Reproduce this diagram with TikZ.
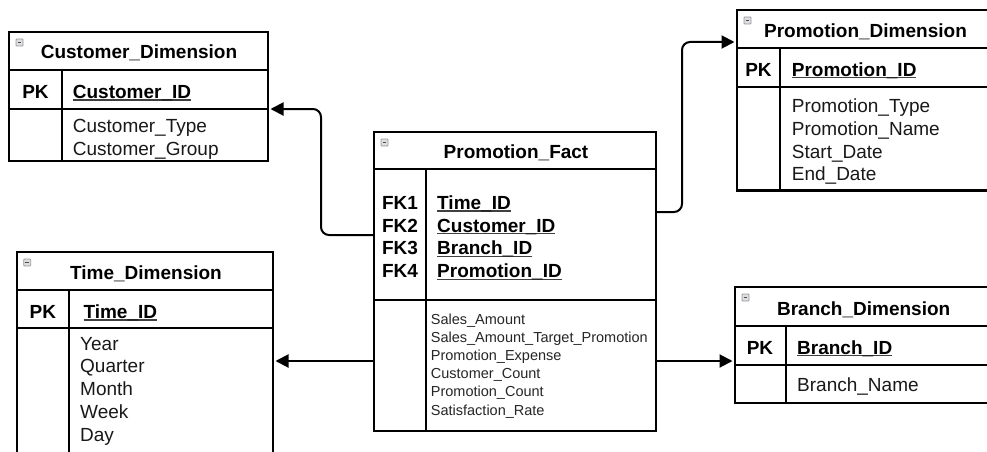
\documentclass[tikz,border=0pt]{standalone}
\usepackage{fontspec}
\setmainfont{Liberation Sans}
\usetikzlibrary{arrows.meta}

% underline drawn just below the baseline, as in ER tools
\newcommand\keyul[1]{\leavevmode\setbox0\hbox{#1}\rlap{\color{black!75}\rule[-2.4pt]{\wd0}{1.3pt}}\box0}

\tikzset{
  frame/.style={draw=black, line width=2.4pt, fill=white, inner sep=0pt, outer sep=0pt},
  rowrule/.style={line width=2.4pt},
  link/.style={line width=2pt, rounded corners=8pt, -{Triangle[length=13pt,width=13pt]}, shorten >=2.5pt},
  title/.style={font=\fontsize{19}{22}\selectfont\bfseries, inner sep=0pt, anchor=base},
  keylbl/.style={font=\fontsize{19}{22}\selectfont\bfseries, inner sep=0pt, anchor=base},
  keyname/.style={font=\fontsize{19}{22}\selectfont\bfseries, inner sep=0pt, anchor=base west},
  attr/.style={font=\fontsize{19}{22}\selectfont, text=black!90, inner sep=0pt, anchor=base west},
  smallattr/.style={font=\fontsize{14.5}{17}\selectfont, text=black!85, inner sep=0pt, anchor=base west},
  icon/.style={draw=gray!80, fill=blue!8!gray!25, line width=0.8pt, rounded corners=0.8pt}
}

% table frame: name, x1, y1, x2, y2, header rule y, key rule y, column rule x
\newcommand\ertable[8]{%
  \node[frame, anchor=north west, minimum width={#4-#2}, minimum height={#5-#3}] (#1) at (#2,#3) {};
  \draw[rowrule] (#2,#6) -- (#4,#6) (#2,#7) -- (#4,#7) (#8,#6) -- (#8,#5);
  \draw[icon] ({#2+7},{#3+7}) rectangle +(7,7);
  \draw[line width=1pt, black!70] ({#2+8.6},{#3+10.5}) -- +(3.8,0);
}

\begin{document}
\begin{tikzpicture}[x=1pt, y=-1pt]
\useasboundingbox (0,0) rectangle (987,452);
\clip (0,0) rectangle (987,452);
\fill[white] (0,0) rectangle (987,452);

% ---------- Customer_Dimension ----------
\ertable{cust}{9}{32}{268}{161}{70}{109}{62}
\node[title] (cust-t) at (139,58.3) {Customer\_Dimension};
\node[keylbl] (cust-pk) at (35.5,98.3) {PK};
\node[keyname] (cust-k) at (72.7,98.3) {\keyul{Customer\_ID}};
\node[attr] (cust-a1) at (72.7,132.7) {Customer\_Type};
\node[attr] (cust-a2) at (72.7,155) {Customer\_Group};

% ---------- Promotion_Fact ----------
\ertable{fact}{374}{132}{656}{431}{169}{300}{426}
\node[title] (fact-t) at (516,158.3) {Promotion\_Fact};
\foreach \k/\n [count=\i] in {FK1/Time\_ID, FK2/Customer\_ID, FK3/Branch\_ID, FK4/Promotion\_ID}{
  \node[keylbl] (fact-fk\i) at (400,{209.3+(\i-1)*22.7}) {\k};
  \node[keyname] (fact-k\i) at (437,{209.3+(\i-1)*22.7}) {\keyul{\n}};
}
\foreach \a [count=\i] in {Sales\_Amount, Sales\_Amount\_Target\_Promotion, Promotion\_Expense,
    Customer\_Count, Promotion\_Count, Satisfaction\_Rate}{
  \node[smallattr] (fact-a\i) at (430.7,{324+(\i-1)*18.2}) {\a};
}

% ---------- Promotion_Dimension ----------
\ertable{promo}{737}{10}{995}{190.5}{48}{87}{780}
\node[title] (promo-t) at (865.5,37.3) {Promotion\_Dimension};
\node[keylbl] (promo-pk) at (758.5,76) {PK};
\node[keyname] (promo-k) at (791.7,76) {\keyul{Promotion\_ID}};
\foreach \a [count=\i] in {Promotion\_Type, Promotion\_Name, Start\_Date, End\_Date}{
  \node[attr] (promo-a\i) at (791.7,{112.7+(\i-1)*22.75}) {\a};
}

% ---------- Time_Dimension ----------
\ertable{time}{16.7}{252}{273}{475}{290}{328}{69}
\node[title] (time-t) at (146,279.3) {Time\_Dimension};
\node[keylbl] (time-pk) at (42.8,318.3) {PK};
\node[keyname] (time-k) at (83.3,318.3) {\keyul{Time\_ID}};
\foreach \a [count=\i] in {Year, Quarter, Month, Week, Day}{
  \node[attr] (time-a\i) at (80,{350+(\i-1)*22.75}) {\a};
}

% ---------- Branch_Dimension ----------
\ertable{branch}{735}{287}{993}{403}{326}{365}{786}
\node[title] (branch-t) at (863.7,315) {Branch\_Dimension};
\node[keylbl] (branch-pk) at (760,354) {PK};
\node[keyname] (branch-k) at (797,354) {\keyul{Branch\_ID}};
\node[attr] (branch-a1) at (797,391.7) {Branch\_Name};

% ---------- relationships ----------
\draw[link] (fact.west |- 0,235) -| (321,109) -- (cust.east |- 0,109);
\draw[link] (fact.west |- 0,361) -- (time.east |- 0,361);
\draw[link] (fact.east |- 0,212) -| (682,42) -- (promo.west |- 0,42);
\draw[link] (fact.east |- 0,361) -- (branch.west |- 0,361);
\end{tikzpicture}
\end{document}
